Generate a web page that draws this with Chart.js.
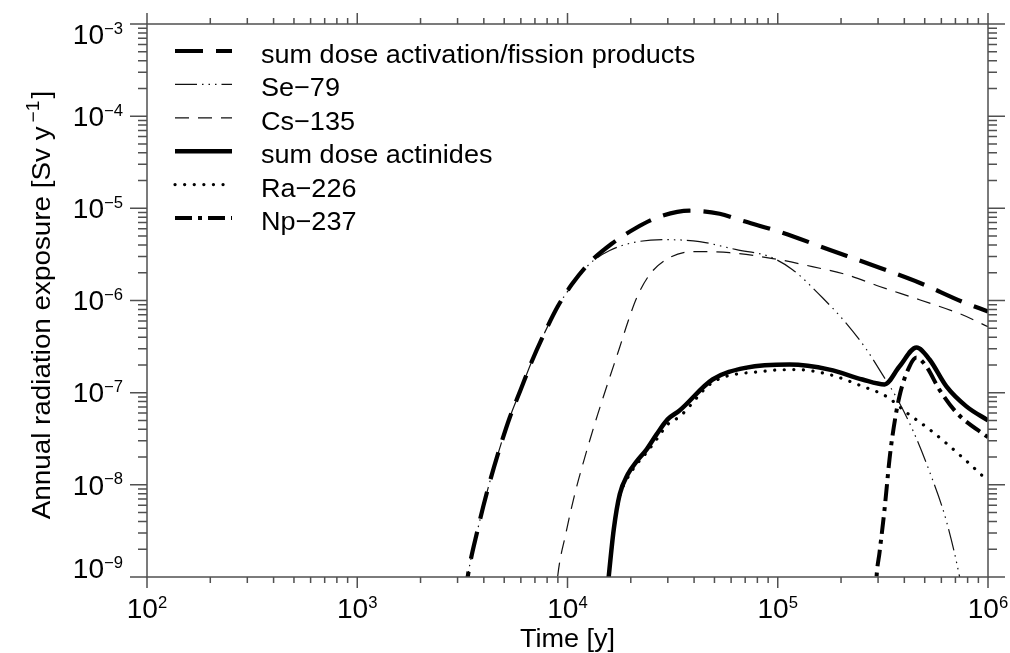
<!DOCTYPE html>
<html><head><meta charset="utf-8">
<script src="https://cdn.jsdelivr.net/npm/chart.js@4/dist/chart.umd.min.js"></script>
<style>html,body{margin:0;padding:0;background:#fff;}canvas{display:block;}</style>
</head><body>
<canvas id="c" width="1010" height="653"></canvas>
<script>
// ---- data ----
const seriesNames = ['sum dose activation/fission products', 'Se\u221279', 'Cs\u2212135', 'sum dose actinides', 'Ra\u2212226', 'Np\u2212237'];

const fpSumTime = [3250, 3356, 3743, 4175, 4710, 5313, 5993, 6760, 7792, 8983, 10470, 12750, 16230, 20870, 27430, 38090, 52900, 65800, 102000, 176000, 305000, 472000, 755000, 1000000];
const fpSumDose = [5.7e-10, 1.02e-9, 3.3e-9, 8.93e-9, 2.31e-8, 5.38e-8, 1.08e-7, 2.18e-7, 4.49e-7, 8.59e-7, 1.49e-6, 2.58e-6, 4.13e-6, 6.01e-6, 8.11e-6, 9.42e-6, 8.73e-6, 7.5e-6, 5.57e-6, 3.56e-6, 2.27e-6, 1.56e-6, 9.7e-7, 7.6e-7];

const se79Time = [3250, 3356, 3743, 4175, 4710, 5313, 5993, 6760, 7792, 8983, 10470, 12750, 15870, 20400, 29600, 42500, 63710, 91420, 117600, 163300, 212300, 264300, 314900, 366900, 437200, 526600, 634300, 731300, 764000];
const se79Dose = [5.7e-10, 1.02e-9, 3.3e-9, 8.93e-9, 2.31e-8, 5.38e-8, 1.08e-7, 2.18e-7, 4.49e-7, 8.59e-7, 1.44e-6, 2.5e-6, 3.48e-6, 4.24e-6, 4.57e-6, 4.35e-6, 3.56e-6, 2.99e-6, 2.16e-6, 1.07e-6, 5.62e-7, 2.94e-7, 1.57e-7, 8.87e-8, 3.99e-8, 1.4e-8, 4.03e-9, 1.02e-9, 5.7e-10];

const cs135Time = [8790, 8983, 9804, 10820, 12200, 13920, 15870, 17700, 19330, 21330, 24590, 29940, 39380, 59000, 102000, 146000, 212000, 305000, 472000, 755000, 1000000];
const cs135Dose = [5.7e-10, 1.02e-9, 2.91e-9, 7.88e-9, 2.14e-8, 5.81e-8, 1.46e-7, 3.09e-7, 5.77e-7, 1.07e-6, 1.91e-6, 2.84e-6, 3.39e-6, 3.3e-6, 2.77e-6, 2.33e-6, 1.91e-6, 1.42e-6, 1.02e-6, 7.0e-7, 5.2e-7];

const actSumTime = [15340, 15700, 16600, 17720, 19350, 21330, 23800, 26530, 29930, 34120, 48970, 71100, 113800, 176300, 252900, 322000, 379000, 457000, 527000, 634000, 789000, 1000000];
const actSumDose = [5.7e-10, 1e-9, 3.3e-9, 7.9e-9, 1.3e-8, 1.8e-8, 2.43e-8, 3.53e-8, 5.13e-8, 6.4e-8, 1.39e-7, 1.87e-7, 2.02e-7, 1.78e-7, 1.39e-7, 1.23e-7, 1.92e-7, 3.09e-7, 2.29e-7, 1.17e-7, 7.1e-8, 5.0e-8];

const ra226Time = [15340, 15700, 16600, 17720, 19350, 21330, 23800, 26530, 29930, 34120, 48970, 84800, 122800, 176300, 252900, 329000, 409000, 527000, 755000, 1000000];
const ra226Dose = [5.7e-10, 1e-9, 3.3e-9, 7.5e-9, 1.2e-8, 1.67e-8, 2.25e-8, 3.11e-8, 4.52e-8, 5.5e-8, 1.29e-7, 1.7e-7, 1.78e-7, 1.57e-7, 1.17e-7, 9.1e-8, 6.1e-8, 3.99e-8, 1.99e-8, 1.1e-8];

const np237Time = [291500, 295000, 305000, 322000, 340000, 351000, 379000, 423000, 457000, 509000, 587000, 707000, 961000, 1000000];
const np237Dose = [5.7e-10, 1e-9, 1.86e-9, 5.4e-9, 1.89e-8, 3.36e-8, 9.1e-8, 1.92e-7, 2.4e-7, 1.92e-7, 1.08e-7, 6.1e-8, 3.5e-8, 3.3e-8];

const xTickExps = [2, 3, 4, 5, 6];
const yTickExps = [-3, -4, -5, -6, -7, -8, -9];
const xTitle = 'Time [y]';
const yTitleMain = 'Annual radiation exposure [Sv y';
const yTitleSup = '\u22121';
const yTitleEnd = ']';

// ---- build ----
function pts(t, v) { return t.map((x, i) => ({x: x, y: v[i]})); }
const FONT = "'Liberation Sans', Arial, Helvetica, sans-serif";
const SX = 1.04;

const styles = [
  {w: 4.2, dash: [28, 13], cap: 'butt', col: '#000'},
  {w: 1.2, dash: [22, 5, 1.5, 5, 1.5, 5, 1.5, 5], cap: 'butt', col: '#111'},
  {w: 1.2, dash: [14, 9], cap: 'butt', col: '#111'},
  {w: 4.5, dash: [], cap: 'butt', col: '#000'},
  {w: 3.2, dash: [0.1, 9.5], cap: 'round', col: '#000'},
  {w: 4, dash: [17, 6, 4, 6], cap: 'butt', col: '#000'}
];
const seriesData = [
  pts(fpSumTime, fpSumDose), pts(se79Time, se79Dose), pts(cs135Time, cs135Dose),
  pts(actSumTime, actSumDose), pts(ra226Time, ra226Dose), pts(np237Time, np237Dose)
];

const datasets = seriesNames.map((n, i) => ({
  label: n,
  data: seriesData[i],
  borderColor: styles[i].col,
  borderWidth: styles[i].w,
  borderDash: styles[i].dash,
  borderCapStyle: styles[i].cap,
  borderJoinStyle: 'round',
  pointRadius: 0,
  cubicInterpolationMode: 'monotone',
  fill: false,
  clip: 0
}));

function stretchText(ctx, txt, x, y, font, sx) {
  ctx.save();
  ctx.font = font;
  ctx.translate(x, y);
  ctx.scale(sx || SX, 1);
  ctx.fillText(txt, 0, 0);
  ctx.restore();
}
function tw(ctx, txt, font, sx) { ctx.font = font; return ctx.measureText(txt).width * (sx || SX); }

const BIG = '26px ' + FONT;
const TICK = '27px ' + FONT;
const EXP = '16px ' + FONT;
const SUP = '18px ' + FONT;
const YSX = 1.07;

const decor = {
  id: 'decor',
  afterDraw(chart) {
    const ctx = chart.ctx, a = chart.chartArea, xs = chart.scales.x, ys = chart.scales.y;
    ctx.save();
    ctx.strokeStyle = '#505050';
    ctx.lineWidth = 1.5;
    ctx.setLineDash([]);
    ctx.strokeRect(a.left, a.top, a.right - a.left, a.bottom - a.top);
    ctx.beginPath();
    for (let e = xTickExps[0]; e < xTickExps[xTickExps.length - 1] + 1; e++) {
      for (let m = 1; m <= 9; m++) {
        const v = m * Math.pow(10, e);
        if (v > xs.max * 1.0001) break;
        const px = xs.getPixelForValue(v);
        const len = m === 1 ? 11 : 6;
        ctx.moveTo(px, a.bottom); ctx.lineTo(px, a.bottom + len);
        ctx.moveTo(px, a.top); ctx.lineTo(px, a.top - len);
      }
    }
    const ymin = yTickExps[yTickExps.length - 1], ymax = yTickExps[0];
    for (let e = ymin; e <= ymax; e++) {
      for (let m = 1; m <= 9; m++) {
        const v = m * Math.pow(10, e);
        if (v > ys.max * 1.0001) break;
        const py = ys.getPixelForValue(v);
        const len = m === 1 ? 17 : 9;
        ctx.moveTo(a.left, py); ctx.lineTo(a.left - len, py);
        ctx.moveTo(a.right, py); ctx.lineTo(a.right + len, py);
      }
    }
    ctx.stroke();

    ctx.fillStyle = '#000';
    ctx.textBaseline = 'alphabetic';
    ctx.textAlign = 'left';
    // y tick labels
    yTickExps.forEach((e, i) => {
      let cy = ys.getPixelForValue(Math.pow(10, e));
      if (i === 0) cy += 10;
      if (i === yTickExps.length - 1) cy -= 9;
      const exp = (e < 0 ? '\u2212' : '') + Math.abs(e);
      const w1 = tw(ctx, '10', TICK), w2 = tw(ctx, exp, EXP);
      const x0 = 123 - w1 - w2;
      stretchText(ctx, '10', x0, cy + 9.7, TICK);
      stretchText(ctx, exp, x0 + w1, cy - 0.5, EXP);
    });
    // x tick labels
    xTickExps.forEach((e) => {
      const cx = xs.getPixelForValue(Math.pow(10, e));
      const exp = String(e);
      const w1 = tw(ctx, '10', TICK), w2 = tw(ctx, exp, EXP);
      const x0 = cx - (w1 + w2) / 2;
      stretchText(ctx, '10', x0, 618, TICK);
      stretchText(ctx, exp, x0 + w1, 607.5, EXP);
    });
    // x title
    const wt = tw(ctx, xTitle, BIG);
    stretchText(ctx, xTitle, (a.left + a.right) / 2 - wt / 2, 647, BIG);
    // y title
    ctx.save();
    ctx.translate(50, 305);
    ctx.rotate(-Math.PI / 2);
    const wm = tw(ctx, yTitleMain, BIG, YSX), ws = tw(ctx, yTitleSup, SUP, YSX), we = tw(ctx, yTitleEnd, BIG, YSX);
    const tot = wm + 4 + ws + 2 + we;
    let sx = -tot / 2;
    stretchText(ctx, yTitleMain, sx, 0, BIG, YSX); sx += wm + 4;
    stretchText(ctx, yTitleSup, sx, -11, SUP, YSX); sx += ws + 2;
    stretchText(ctx, yTitleEnd, sx, 0, BIG, YSX);
    ctx.restore();

    // legend
    chart.data.datasets.forEach((ds, i) => {
      const base = 63 + 33.4 * i;
      const ly = base - 12;
      ctx.save();
      ctx.strokeStyle = ds.borderColor;
      ctx.lineWidth = ds.borderWidth;
      ctx.lineCap = ds.borderCapStyle;
      ctx.setLineDash(ds.borderDash);
      ctx.beginPath();
      ctx.moveTo(175, ly); ctx.lineTo(232, ly);
      ctx.stroke();
      ctx.restore();
      ctx.fillStyle = '#000';
      stretchText(ctx, ds.label, 261, base, BIG);
    });
    ctx.restore();
  }
};

new Chart(document.getElementById('c'), {
  type: 'line',
  data: {datasets: datasets},
  options: {
    responsive: false,
    animation: false,
    devicePixelRatio: 1,
    layout: {padding: {left: 147, right: 22, top: 24, bottom: 76}},
    plugins: {legend: {display: false}, tooltip: {enabled: false}},
    scales: {
      x: {type: 'logarithmic', min: 100, max: 1e6, display: false},
      y: {type: 'logarithmic', min: 1e-9, max: 1e-3, display: false}
    }
  },
  plugins: [decor]
});
</script>
</body></html>
